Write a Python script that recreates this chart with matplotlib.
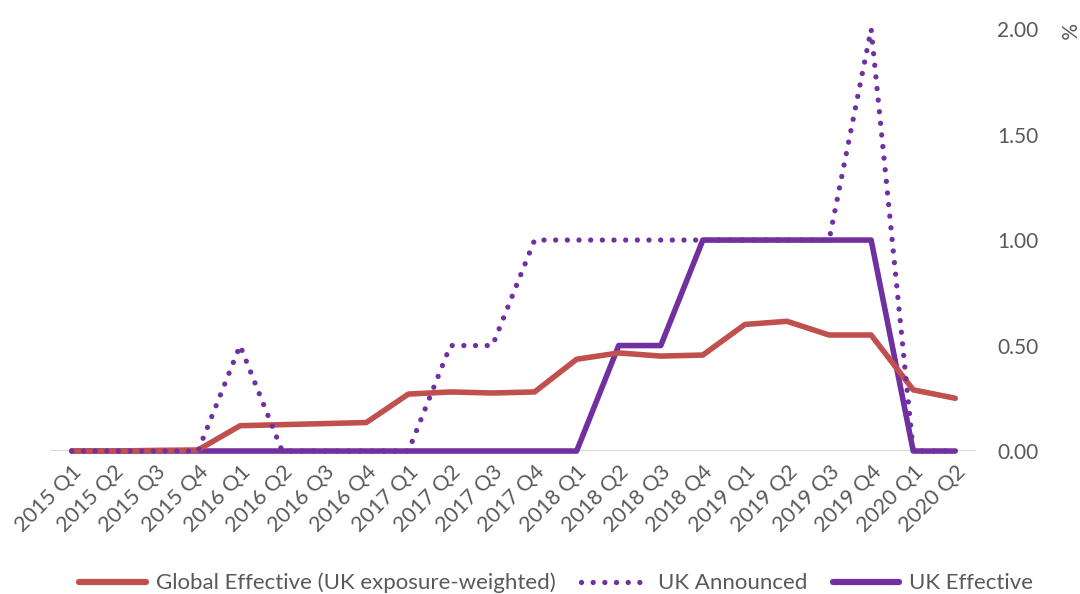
import matplotlib
matplotlib.use("Agg")
import matplotlib.pyplot as plt
from matplotlib.lines import Line2D

quarters = ["2015 Q1", "2015 Q2", "2015 Q3", "2015 Q4",
            "2016 Q1", "2016 Q2", "2016 Q3", "2016 Q4",
            "2017 Q1", "2017 Q2", "2017 Q3", "2017 Q4",
            "2018 Q1", "2018 Q2", "2018 Q3", "2018 Q4",
            "2019 Q1", "2019 Q2", "2019 Q3", "2019 Q4",
            "2020 Q1", "2020 Q2"]
global_effective = [0.0, 0.0, 0.003, 0.005, 0.12, 0.125, 0.13, 0.135,
                    0.27, 0.28, 0.275, 0.28, 0.435, 0.465, 0.45, 0.455,
                    0.60, 0.615, 0.55, 0.55, 0.29, 0.25]
uk_announced = [0, 0, 0, 0, 0.5, 0, 0, 0, 0, 0.5, 0.5, 1.0,
                1.0, 1.0, 1.0, 1.0, 1.0, 1.0, 1.0, 2.0, 0, 0]
uk_effective = [0, 0, 0, 0, 0, 0, 0, 0, 0, 0, 0, 0,
                0, 0.5, 0.5, 1.0, 1.0, 1.0, 1.0, 1.0, 0, 0]
y_ticks = [0.0, 0.5, 1.0, 1.5, 2.0]

RED = "#C0504D"
PURPLE = "#7030A0"
TXT = "#595959"
FONT = ["Lato", "DejaVu Sans"]
plt.rcParams["font.family"] = FONT

fig = plt.figure(figsize=(10.8, 5.94), dpi=100)
ax = fig.add_axes([0.047, 0.2407, 0.857, 0.7103])

DOT = (0, (0.01, 2.2))
x = list(range(len(quarters)))
ax.axhline(0, color="#D9D9D9", lw=1.5, zorder=1)
ax.plot(x, uk_effective, color=PURPLE, lw=4, solid_capstyle="round", zorder=3, clip_on=False)
ax.plot(x, global_effective, color=RED, lw=4, solid_capstyle="round", zorder=4, clip_on=False)
ax.plot(x, uk_announced, color=PURPLE, lw=3.8, linestyle=DOT,
        dash_capstyle="round", zorder=5, clip_on=False)

ax.set_xlim(-0.5, len(quarters) - 0.5)
ax.set_ylim(0, 2.0)
ax.yaxis.tick_right()
ax.set_yticks(y_ticks)
ax.set_yticklabels([f"{v:.2f}" for v in y_ticks])
ax.tick_params(axis="y", length=0, pad=15, labelsize=15, labelcolor=TXT)
ax.set_xticks(x)
ax.set_xticklabels(quarters, rotation=45, ha="right", rotation_mode="anchor")
ax.tick_params(axis="x", length=0, pad=8, labelsize=15.5, labelcolor=TXT)
for s in ax.spines.values():
    s.set_visible(False)

fig.text(1066 / 1080, 1 - 31 / 594, "%", rotation=-90, ha="center", va="center",
         fontsize=15, color=TXT)

handles = [
    Line2D([0], [0], color=RED, lw=4.5, solid_capstyle="round"),
    Line2D([0], [0], color=PURPLE, lw=3.8, linestyle=DOT, dash_capstyle="round"),
    Line2D([0], [0], color=PURPLE, lw=4.5, solid_capstyle="round"),
]
labels = ["Global Effective (UK exposure-weighted)", "UK Announced", "UK Effective"]
fig.legend(handles, labels, loc="center", bbox_to_anchor=(0.515, 1 - 583 / 594),
           ncol=3, frameon=False, fontsize=16, labelcolor=TXT,
           handlelength=3.0, handletextpad=0.45, columnspacing=1.15)

fig.savefig("out.png", dpi=100)
